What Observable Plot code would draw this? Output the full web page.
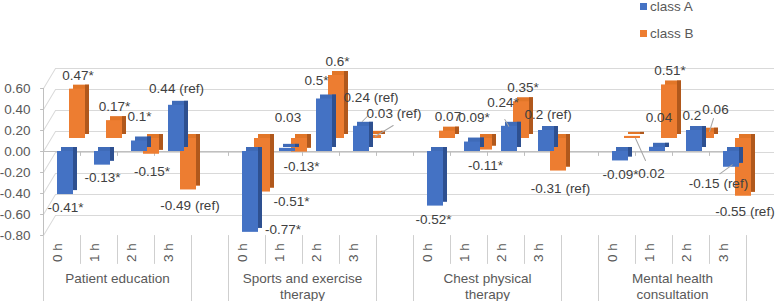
<!DOCTYPE html>
<html>
<head>
<meta charset="utf-8">
<script src="https://cdn.jsdelivr.net/npm/d3@7"></script>
<script src="https://cdn.jsdelivr.net/npm/@observablehq/plot@0.6"></script>
<style>
  body { margin: 0; background: #fff; font-family: "Liberation Sans", Arial, sans-serif; }
  #wrap { position: relative; width: 775px; height: 301px; }
  .sw { position: absolute; width: 7px; height: 7px; }
  .lg { position: absolute; font-size: 13.5px; line-height: 16px; color: #595959; white-space: nowrap; }
</style>
</head>
<body>
<div id="wrap"></div>
<script>
// ---------- data ----------
const groups = ["Patient education", "Sports and exercise\ntherapy", "Chest physical\ntherapy", "Mental health\nconsultation"];
const hours = ["0 h", "1 h", "2 h", "3 h"];
const seriesNames = ["class A", "class B"];
const classA = [-0.41, -0.13, 0.10, 0.44,  -0.77, 0.03, 0.50, 0.24,  -0.52, 0.09, 0.24, 0.20,  -0.09, 0.04, 0.20, -0.15];
const classB = [0.47, 0.17, -0.15, -0.49,  -0.51, -0.13, 0.60, 0.03,  0.07, -0.11, 0.35, -0.31,  0.02, 0.51, 0.06, -0.55];
const labelsA = ["-0.41*", "-0.13*", "0.1*", "0.44 (ref)",  "-0.77*", "0.03", "0.5*", "0.24 (ref)",  "-0.52*", "0.09*", "0.24*", "0.2 (ref)",  "-0.09*", "0.04", "0.2", "-0.15 (ref)"];
const labelsB = ["0.47*", "0.17*", "-0.15*", "-0.49 (ref)",  "-0.51*", "-0.13*", "0.6*", "0.03 (ref)",  "0.07", "-0.11*", "0.35*", "-0.31 (ref)",  "0.02", "0.51*", "0.06", "-0.55 (ref)"];
const yTicks = [0.6, 0.4, 0.2, 0, -0.2, -0.4, -0.6, -0.8];

// ---------- layout / style (pixels) ----------
const labelOffsetA = [[0,13.3],[0,12.7],[0,-24],[0,-16.5],  [32.5,-2.5],[0.5,-31],[-8,-18.5],[9.5,-29],  [-2,13.5],[1.5,-24.5],[-6.5,-24],[1.5,-16],  [0,13.5],[1.5,-30],[-2.5,-15],[-13,16.5]];
const labelOffsetB = [[0,-13.6],[-0.5,-13.5],[0,17],[1,15.5],  [28.5,10],[1.5,15],[0.5,-14],[20,-22],  [0,-14],[0.5,16],[1,-14],[1.5,18],  [18.5,37],[0,-14],[8.5,-23],[1,15]];
const leaders = [
  {s: 0, i: 7,  from: [0.7,-4.8],  to: [5.7,-9.8]},
  {s: 1, i: 7,  from: [1.5,0.85],  to: [19.2,-9.85]},
  {s: 0, i: 10, from: [-0.7,-0.1], to: [-4.7,-6.8]},
  {s: 1, i: 12, from: [2.5,1.8],   to: [12.5,24.1]},
  {s: 1, i: 14, from: [2.5,-0.7],  to: [6.5,-13.7]},
  {s: 0, i: 15, from: [0.7,-2.45], to: [-11.7,6.55]}
];
const styleA = {front: "#4472C4", top: "#3F6BB8", side: "#2E5090", dx: 0, dy: 0, ax: 3.5};
const styleB = {front: "#ED7D31", top: "#E27628", side: "#B0581C", dx: 12, dy: -13, ax: 16};
const textColor = "#404040", axisText = "#595959", gridColor = "#d9d9d9", axisColor = "#bfbfbf", sepColor = "#cfcfcf";
const fs = 13.5;

// ---------- build ----------
const slots = [];
groups.forEach((g, gi) => {
  hours.forEach(h => slots.push(g + "|" + h));
  if (gi < groups.length - 1) slots.push("gap" + gi);
});
const slotOf = (gi, hi) => groups[gi] + "|" + hours[hi];
const makeRows = (vals, labels) => vals.map((v, i) => ({slot: slotOf(Math.floor(i / 4), i % 4), value: v, label: labels[i]}));
const rowsA = makeRows(classA, labelsA);
const rowsB = makeRows(classB, labelsB);
const hourRows = slots.filter(s => s.includes("|")).map(s => ({slot: s, hour: s.split("|")[1]}));

const seg = {draw(ctx, l) { ctx.moveTo(0, 0); ctx.lineTo(0, -l); }};
const line = (opts) => ({anchor: "start", shape: seg, fill: "none", strokeWidth: 1, ...opts});

const half = 18.5;
const isLong = (s, i) => i === 0 || s.startsWith("gap") || s.endsWith("|0 h");
const longEdges = slots.filter((s, i) => isLong(s, i));
const shortEdges = slots.filter((s, i) => !isLong(s, i));

function barMarks(data, st) {
  return [
    Plot.barY(data, {x: "slot", y1: 0, y2: "value", insetLeft: 14, insetRight: 7, fill: st.top, dx: st.dx + 4, dy: st.dy - 4}),
    Plot.barY(data, {x: "slot", y1: 0, y2: "value", insetLeft: 30, insetRight: 3, fill: st.side, dx: st.dx, dy: st.dy - 4}),
    Plot.barY(data, {x: "slot", y1: 0, y2: "value", insetLeft: 14, insetRight: 7, fill: st.front, dx: st.dx, dy: st.dy})
  ];
}
function labelMarks(data, st, offs) {
  return data.map((r, i) => Plot.text([r], {
    x: "slot", y: "value", text: "label",
    dx: st.ax + offs[i][0], dy: st.dy + offs[i][1],
    fontSize: fs, fill: textColor
  }));
}
function leaderMarks() {
  return leaders.map(L => {
    const st = L.s === 0 ? styleA : styleB;
    const r = (L.s === 0 ? rowsA : rowsB)[L.i];
    const ddx = L.to[0] - L.from[0], ddy = L.to[1] - L.from[1];
    return Plot.vector([r], line({
      x: "slot", y: "value",
      dx: st.ax + L.from[0], dy: st.dy + L.from[1],
      length: Math.hypot(ddx, ddy),
      rotate: Math.atan2(ddx, -ddy) * 180 / Math.PI,
      stroke: "#a6a6a6"
    }));
  });
}

const chart = Plot.plot({
  width: 775,
  height: 301,
  marginLeft: 43,
  marginRight: 29,
  marginTop: 67,
  marginBottom: 66,
  style: {fontFamily: "'Liberation Sans', Arial, sans-serif", background: "transparent", overflow: "visible"},
  x: {type: "band", domain: slots, padding: 0, axis: null},
  y: {domain: [-0.8, 0.8], axis: null},
  marks: [
    // back wall gridlines
    Plot.ruleY(yTicks, {y: d => d, dx: 12, dy: -20, insetRight: -16, stroke: gridColor}),
    // left wall slanted gridlines
    Plot.vector(yTicks, line({y: d => d, frameAnchor: "left", length: Math.hypot(12, 20), rotate: Math.atan2(12, 20) * 180 / Math.PI, stroke: gridColor})),
    // front zero line with ticks
    Plot.ruleY([0], {stroke: axisColor}),
    Plot.vector(slots, line({x: d => d, y: () => 0, dx: -half, length: 4, rotate: 180, stroke: axisColor})),
    Plot.vector([slots[slots.length - 1]], line({x: d => d, y: () => 0, dx: half, length: 4, rotate: 180, stroke: axisColor})),
    // left value axis
    Plot.ruleX([slots[0]], {x: d => d, y1: yTicks[0], y2: yTicks[yTicks.length - 1], dx: -half, stroke: axisColor}),
    Plot.vector(yTicks, line({y: d => d, frameAnchor: "left", length: 3, rotate: -90, stroke: axisColor})),
    Plot.text(yTicks, {y: d => d, text: d => d.toFixed(2), frameAnchor: "left", dx: -13, textAnchor: "end", fontSize: fs, fill: axisText}),
    // category axis separators
    Plot.vector(longEdges, line({x: d => d, frameAnchor: "bottom", dx: -half, length: 66, rotate: 180, stroke: sepColor})),
    Plot.vector([slots[slots.length - 1]], line({x: d => d, frameAnchor: "bottom", dx: half, length: 66, rotate: 180, stroke: sepColor})),
    Plot.vector(shortEdges, line({x: d => d, frameAnchor: "bottom", dx: -half, length: 28, rotate: 180, stroke: sepColor})),
    // category labels
    Plot.text(hourRows, {x: "slot", text: "hour", frameAnchor: "bottom", dy: 17, rotate: -90, fontSize: fs, fill: axisText}),
    Plot.text(groups, {x: (g, i) => slotOf(i, 2), text: d => d, frameAnchor: "bottom", dx: -half, dy: 35.5, lineAnchor: "top", lineHeight: 1.2, fontSize: fs, fill: axisText}),
    // bars: back row (class B) first, then front row (class A)
    ...barMarks(rowsB, styleB),
    ...barMarks(rowsA, styleA),
    // leaders and labels
    ...leaderMarks(),
    ...labelMarks(rowsB, styleB, labelOffsetB),
    ...labelMarks(rowsA, styleA, labelOffsetA)
  ]
});

const wrap = document.getElementById("wrap");
wrap.appendChild(chart);
const legendColors = [styleA.front, styleB.front];
seriesNames.forEach((name, i) => {
  const sw = document.createElement("div");
  sw.className = "sw";
  sw.style.left = "640px";
  sw.style.top = (3 + 27 * i) + "px";
  sw.style.background = legendColors[i];
  wrap.appendChild(sw);
  const t = document.createElement("div");
  t.className = "lg";
  t.style.left = "650px";
  t.style.top = (-1 + 27 * i) + "px";
  t.textContent = name;
  wrap.appendChild(t);
});
</script>
</body>
</html>
